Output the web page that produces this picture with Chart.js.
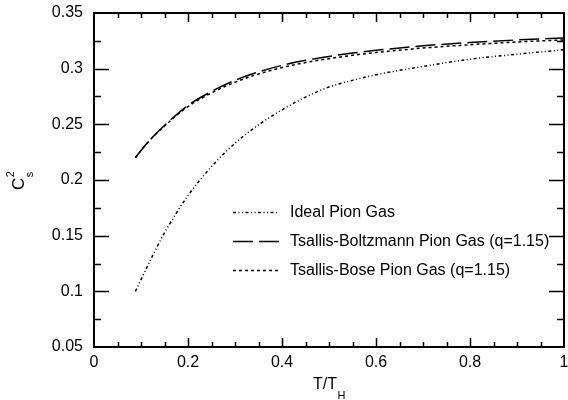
<!DOCTYPE html>
<html>
<head>
<meta charset="utf-8">
<script src="https://cdn.jsdelivr.net/npm/chart.js@4.4.1/dist/chart.umd.min.js"></script>
<style>
  html, body { margin: 0; padding: 0; background: #fff; }
</style>
</head>
<body>
<canvas id="chart" width="568" height="400"></canvas>
<script>
// Speed of sound squared vs T/T_H

// Data
const temps = [0.088, 0.1, 0.12, 0.15, 0.2, 0.25, 0.3, 0.35, 0.4, 0.45, 0.5, 0.55, 0.6, 0.7, 0.8, 0.9, 1.0];
const idealGas = [0.100, 0.1105, 0.128, 0.1525, 0.186, 0.212, 0.233, 0.2495, 0.263, 0.2745, 0.2835, 0.2895, 0.2945, 0.302, 0.3085, 0.313, 0.317];
const tsallisBoltzmann = [0.220, 0.2265, 0.2365, 0.249, 0.267, 0.2795, 0.2895, 0.2970, 0.303, 0.3075, 0.311, 0.314, 0.3165, 0.3205, 0.3235, 0.3258, 0.3275];
const tsallisBose = [0.220, 0.2265, 0.2362, 0.2485, 0.2660, 0.2782, 0.2878, 0.2952, 0.3010, 0.3055, 0.3090, 0.3120, 0.3145, 0.3185, 0.3215, 0.3240, 0.3258];

const seriesLabels = ['Ideal Pion Gas', 'Tsallis-Boltzmann Pion Gas (q=1.15)', 'Tsallis-Bose Pion Gas (q=1.15)'];
const seriesDashes = [[3, 2.5, 1, 2.5, 1, 2.5], [20, 6], [3, 3]];

const xRange = [0, 1];
const yRange = [0.05, 0.35];
const xMajorStep = 0.2, xMinorStep = 0.05;
const yMajorStep = 0.05, yMinorStep = 0.025;

const FONT = '"Liberation Sans", Arial, Helvetica, sans-serif';

function toPoints(ys) {
  return temps.map((t, i) => ({ x: t, y: ys[i] }));
}

// Frame, inward ticks, legend and axis titles
const framePlugin = {
  id: 'frame',
  afterDraw(chart) {
    const ctx = chart.ctx;
    const area = chart.chartArea;
    const xs = chart.scales.x;
    const ys = chart.scales.y;
    ctx.save();
    ctx.strokeStyle = '#000';
    ctx.lineWidth = 2;
    ctx.strokeRect(area.left, area.top, area.right - area.left, area.bottom - area.top);

    ctx.lineWidth = 1.5;
    ctx.beginPath();
    // x ticks, bottom and top
    const nx = Math.round((xRange[1] - xRange[0]) / xMinorStep);
    for (let i = 1; i < nx; i++) {
      const v = xRange[0] + i * xMinorStep;
      const px = Math.round(xs.getPixelForValue(v)) + 0.5;
      const major = i % Math.round(xMajorStep / xMinorStep) === 0;
      const len = major ? 9 : 5;
      ctx.moveTo(px, area.bottom); ctx.lineTo(px, area.bottom - len);
      ctx.moveTo(px, area.top); ctx.lineTo(px, area.top + len);
    }
    // y ticks, left and right
    const ny = Math.round((yRange[1] - yRange[0]) / yMinorStep);
    for (let i = 1; i < ny; i++) {
      const v = yRange[0] + i * yMinorStep;
      const py = Math.round(ys.getPixelForValue(v)) + 0.5;
      const major = i % Math.round(yMajorStep / yMinorStep) === 0;
      const len = major ? 15 : 7;
      ctx.moveTo(area.left, py); ctx.lineTo(area.left + len, py);
      ctx.moveTo(area.right, py); ctx.lineTo(area.right - len, py);
    }
    ctx.stroke();

    // legend
    const legendX = 233, legendY = 212, rowGap = 29;
    chart.data.datasets.forEach((ds, i) => {
      const y = legendY + i * rowGap + 0.5;
      ctx.beginPath();
      ctx.setLineDash(ds.borderDash);
      ctx.lineWidth = 1.5;
      ctx.moveTo(legendX, y);
      ctx.lineTo(legendX + 46, y);
      ctx.stroke();
      ctx.setLineDash([]);
      ctx.fillStyle = '#000';
      ctx.font = '16px ' + FONT;
      ctx.textAlign = 'left';
      ctx.textBaseline = 'middle';
      ctx.fillText(ds.label, legendX + 57, y);
    });

    // x title T/T_H
    ctx.textBaseline = 'alphabetic';
    ctx.font = '16px ' + FONT;
    const main = 'T/T';
    const w = ctx.measureText(main).width;
    const cx = (area.left + area.right) / 2 - 4;
    ctx.fillText(main, cx - w / 2, 389);
    ctx.font = '11px ' + FONT;
    ctx.fillText('H', cx + w / 2 + 0.5, 399);

    // y title C_s^2
    ctx.translate(24, 190);
    ctx.rotate(-Math.PI / 2);
    ctx.font = '17px ' + FONT;
    ctx.fillText('C', 0, 0);
    const cw = ctx.measureText('C').width;
    ctx.font = '11px ' + FONT;
    ctx.fillText('s', cw + 0.5, 9);
    ctx.fillText('2', cw + 0.5, -10);
    ctx.restore();
  }
};

const ctx = document.getElementById('chart').getContext('2d');
new Chart(ctx, {
  type: 'scatter',
  data: {
    datasets: [idealGas, tsallisBoltzmann, tsallisBose].map((ys, i) => ({
      label: seriesLabels[i],
      data: toPoints(ys),
      showLine: true,
      borderColor: '#000',
      borderWidth: 1.5,
      borderDash: seriesDashes[i],
      pointRadius: 0,
      fill: false,
      cubicInterpolationMode: 'monotone'
    }))
  },
  options: {
    responsive: false,
    animation: false,
    devicePixelRatio: 1,
    layout: { padding: { left: 0, right: 4, top: 13, bottom: 0 } },
    plugins: {
      legend: { display: false },
      tooltip: { enabled: false }
    },
    scales: {
      x: {
        type: 'linear',
        min: xRange[0],
        max: xRange[1],
        grid: { display: false, drawTicks: false },
        border: { display: false },
        ticks: {
          stepSize: xMajorStep,
          padding: 6,
          maxRotation: 0,
          color: '#000',
          font: { family: FONT, size: 16 },
          callback: v => String(+v.toFixed(2))
        },
        afterFit(scale) {
          scale.height = 53;
          scale.paddingLeft = 0;
          scale.paddingRight = 0;
        }
      },
      y: {
        type: 'linear',
        min: yRange[0],
        max: yRange[1],
        grid: { display: false, drawTicks: false },
        border: { display: false },
        ticks: {
          stepSize: yMajorStep,
          padding: 11,
          color: '#000',
          font: { family: FONT, size: 16 },
          callback: v => String(+v.toFixed(3))
        },
        afterFit(scale) {
          scale.width = 94;
          scale.paddingTop = 0;
          scale.paddingBottom = 0;
        }
      }
    }
  },
  plugins: [framePlugin]
});
</script>
</body>
</html>
